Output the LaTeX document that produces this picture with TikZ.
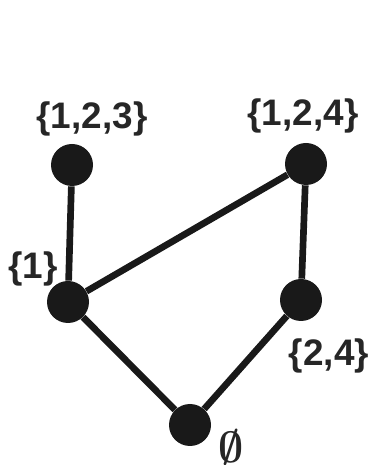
\documentclass[tikz,border=0pt]{standalone}
\usepackage{fontspec}
\setmainfont{Liberation Sans}
\usepackage{amsmath, amssymb}
\usetikzlibrary{positioning}

\tikzset{
  elem/.style={circle, fill=black!90, minimum size=0.84cm, inner sep=0pt},
  setlab/.style={font=\fontsize{21}{25}\selectfont\bfseries, text=black!85, inner sep=0pt},
  cover/.style={line width=3.8pt, draw=black!90}
}

\begin{document}
\begin{tikzpicture}
  \useasboundingbox (0,0) rectangle (7.48,9.30);

  % Elements
  \node[elem] (s123) at (1.44, 6.00) {};
  \node[elem] (s124) at (6.12, 6.02) {};
  \node[elem] (s1) at (1.36, 3.26) {};
  \node[elem] (s24) at (6.02, 3.30) {};
  \node[elem] (empty) at (3.80, 0.80) {};

  % Labels
  \node[setlab] (l123) at (1.84, 6.92) {\{1,2,3\}};
  \node[setlab] (l124) at (6.06, 6.98) {\{1,2,4\}};
  \node[setlab] (l1) at (0.66, 3.92) {\{1\}};
  \node[setlab] (l24) at (6.58, 2.18) {\{2,4\}};
  \node[inner sep=0pt, text=black!85, font=\fontsize{25}{30}\selectfont] (lempty) at (4.62, 0.36) {$\boldsymbol{\emptyset}$};

  % Cover relations
  \draw[cover] (s1) -- (s123);
  \draw[cover] (s1) -- (s124);
  \draw[cover] (s24) -- (s124);
  \draw[cover] (empty) -- (s1);
  \draw[cover] (empty) -- (s24);
\end{tikzpicture}
\end{document}
